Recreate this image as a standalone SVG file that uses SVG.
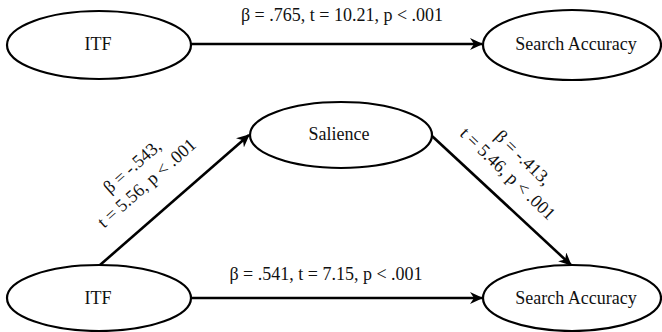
<svg xmlns="http://www.w3.org/2000/svg" width="662" height="332" viewBox="0 0 662 332">
<defs>
<style>
.node ellipse{fill:#fff;stroke:#000;stroke-width:2.2}
.lbl{text-anchor:middle;font-size:18px;fill:#111}
.conn line{stroke:#000;stroke-width:2.6;fill:none}
</style>
<marker id="arr" markerWidth="14" markerHeight="12" refX="12" refY="6" orient="auto" markerUnits="userSpaceOnUse">
<path d="M0,0 L13,6 L0,12 L4,6 Z" fill="#000"/>
</marker>
</defs>
<rect width="662" height="332" fill="#fff"/>
<g font-family="'Liberation Serif', 'Times New Roman', serif">
<g id="connectors" class="conn">
<line x1="191" y1="44" x2="482" y2="44" marker-end="url(#arr)"/>
<line x1="100" y1="265" x2="249" y2="135" marker-end="url(#arr)"/>
<line x1="432" y1="136" x2="571" y2="265" marker-end="url(#arr)"/>
<line x1="191" y1="298" x2="482" y2="298" marker-end="url(#arr)"/>
</g>
<g id="labels">
<text class="lbl" x="342" y="21">β = .765, t = 10.21, p &lt; .001</text>
<text class="lbl" x="326" y="280">β = .541, t = 7.15, p &lt; .001</text>
<text class="lbl" transform="translate(136,171) rotate(-41.5)"><tspan x="0" y="0">β = -.543,</tspan><tspan x="0" y="22">t = 5.56, p &lt; .001</tspan></text>
<text class="lbl" transform="translate(519,162) rotate(44)"><tspan x="0" y="0">β  = -.413,</tspan><tspan x="0" y="22">t = 5.46, p &lt; .001</tspan></text>
</g>
<g id="itf-top" class="node">
<ellipse cx="99" cy="45" rx="92" ry="34"/>
<text class="lbl" x="98" y="50">ITF</text>
</g>
<g id="sa-top" class="node">
<ellipse cx="572" cy="45" rx="89" ry="35"/>
<text class="lbl" x="576" y="50">Search Accuracy</text>
</g>
<g id="salience" class="node">
<ellipse cx="341" cy="135" rx="91" ry="33"/>
<text class="lbl" x="339" y="140">Salience</text>
</g>
<g id="itf-bottom" class="node">
<ellipse cx="99" cy="298" rx="92" ry="33"/>
<text class="lbl" x="98" y="304">ITF</text>
</g>
<g id="sa-bottom" class="node">
<ellipse cx="572" cy="298" rx="89" ry="33"/>
<text class="lbl" x="576" y="304">Search Accuracy</text>
</g>
</g>
</svg>
